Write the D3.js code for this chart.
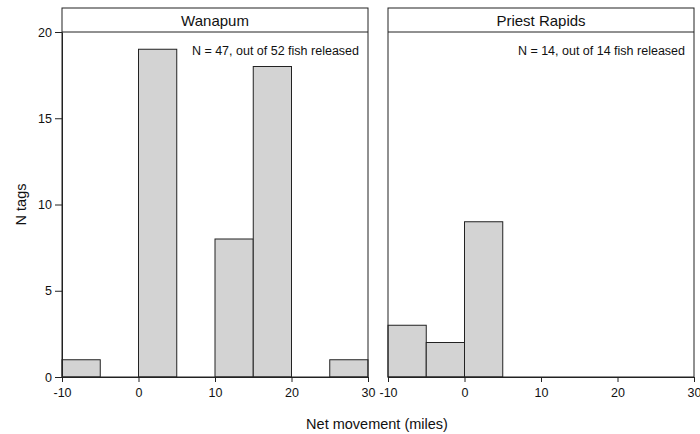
<!DOCTYPE html>
<html>
<head>
<meta charset="utf-8">
<script src="https://cdn.jsdelivr.net/npm/d3@7"></script>
<style>
  body { margin: 0; background: #fff; }
  svg { display: block; font-family: "Liberation Sans", Arial, sans-serif; }
</style>
</head>
<body>
<svg id="chart" width="700" height="434"></svg>
<script>
// Histogram bins (lower edge, upper edge) and counts per release site
const panels = ["Wanapum", "Priest Rapids"];
const notes = ["N = 47, out of 52 fish released", "N = 14, out of 14 fish released"];
const wanapumBins = [[-10, -5, 1], [0, 5, 19], [10, 15, 8], [15, 20, 18], [25, 30, 1]];
const priestBins = [[-10, -5, 3], [-5, 0, 2], [0, 5, 9]];
const binSets = [wanapumBins, priestBins];
const xTicks = [-10, 0, 10, 20, 30];
const yTicks = [0, 5, 10, 15, 20];

const svg = d3.select("#chart");
const frameTop = 8, strip = 24, plotBottom = 377;
const panelX = [[62, 368], [388, 694]];
const ink = "#222";
const font = "Liberation Sans, Arial, sans-serif";

const y = d3.scaleLinear().domain([0, 20]).range([plotBottom, frameTop + strip]);

panels.forEach((name, i) => {
  const [x0, x1] = panelX[i];
  const x = d3.scaleLinear().domain([-10, 30]).range([x0, x1]);
  const g = svg.append("g");

  // bars
  g.selectAll("rect.bar").data(binSets[i]).join("rect")
    .attr("class", "bar")
    .attr("x", d => x(d[0]))
    .attr("width", d => x(d[1]) - x(d[0]))
    .attr("y", d => y(d[2]))
    .attr("height", d => y(0) - y(d[2]))
    .attr("fill", "#d3d3d3")
    .attr("stroke", ink)
    .attr("stroke-width", 1);

  // panel frame and strip
  g.append("rect").attr("x", x0).attr("y", frameTop).attr("width", x1 - x0).attr("height", plotBottom - frameTop)
    .attr("fill", "none").attr("stroke", ink).attr("stroke-width", 1);
  g.append("line").attr("x1", x0).attr("x2", x1).attr("y1", frameTop + strip).attr("y2", frameTop + strip)
    .attr("stroke", ink).attr("stroke-width", 1);
  g.append("text").attr("x", (x0 + x1) / 2).attr("y", frameTop + 18)
    .attr("text-anchor", "middle").attr("font-size", 15).attr("fill", "#111").text(name);

  // annotation
  g.append("text").attr("x", x1 - 9).attr("y", 55)
    .attr("text-anchor", "end").attr("font-size", 12.5).attr("fill", "#111").text(notes[i]);

  // x axis
  const xa = g.append("g").attr("transform", `translate(0,${plotBottom})`)
    .call(d3.axisBottom(x).tickValues(xTicks).tickSize(5).tickSizeOuter(0).tickFormat(d => String(d)));
  xa.select(".domain").attr("stroke", ink);
  xa.selectAll(".tick line").attr("stroke", ink);
  xa.selectAll(".tick text").attr("font-size", 12.5).attr("fill", "#111").attr("y", 20).attr("dy", 0)
    .attr("font-family", font);

  if (i === 0) {
    const ya = g.append("g").attr("transform", `translate(${x0},0)`)
      .call(d3.axisLeft(y).tickValues(yTicks).tickSize(7).tickSizeOuter(0));
    ya.select(".domain").attr("stroke", ink);
    ya.selectAll(".tick line").attr("stroke", ink);
    ya.selectAll(".tick text").attr("font-size", 12.5).attr("fill", "#111").attr("x", -10)
      .attr("font-family", font);
  }
});

// axis titles
svg.append("text").attr("x", 377).attr("y", 429).attr("text-anchor", "middle")
  .attr("font-size", 14.5).attr("fill", "#111").text("Net movement (miles)");
svg.append("text").attr("transform", `translate(26,${(plotBottom + frameTop + strip) / 2}) rotate(-90)`)
  .attr("text-anchor", "middle").attr("font-size", 14.5).attr("fill", "#111").text("N tags");
</script>
</body>
</html>
